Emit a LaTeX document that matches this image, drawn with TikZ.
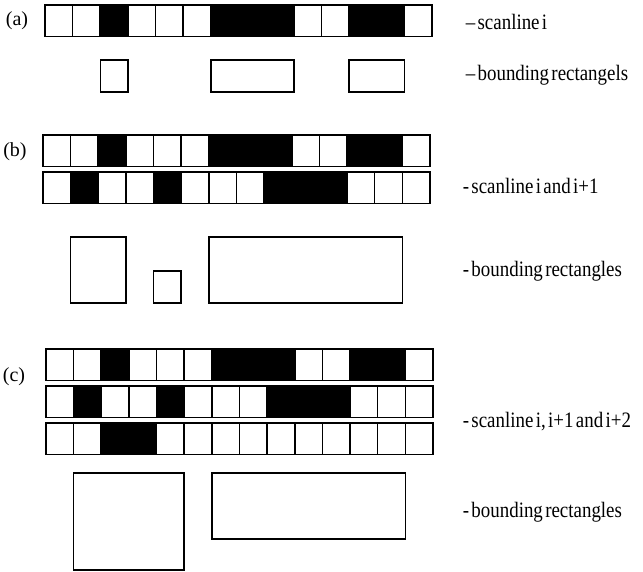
\documentclass[tikz,border=0pt]{standalone}
\usepackage{fontspec}
\setmainfont{Liberation Serif}
\newfontfamily\narrowfont[FakeStretch=0.86,WordSpace=0.5]{Liberation Serif}
\usetikzlibrary{positioning}

\tikzset{
  cell0/.style={draw, fill=white},
  cell1/.style={draw, fill=black},
  bbox/.style={draw},
  caption/.style={anchor=base west, inner sep=0pt,
    font=\narrowfont\fontsize{22}{26}\selectfont},
  tag/.style={inner sep=0pt, font=\fontsize{20}{24}\selectfont},
}
% one scanline: left x, top y, cell pattern (1 = black)
\newcommand{\scanrow}[3]{%
  \foreach \c [count=\k from 0] in {#3}
    \draw[cell\c] ({#1+\k*27.64},#2) rectangle ++(27.64,31.5);
}

\begin{document}
\begin{tikzpicture}[x=1pt, y=-1pt, line width=1.6pt]
    \useasboundingbox (0,0) rectangle (643,572);

    % (a) one scanline
    \node[tag] (tagA) at (17,21) {(a)};
    \scanrow{45}{5}{0,0,1,0,0,0,1,1,1,0,0,1,1,0}
    \draw[bbox] (100.3,60) rectangle (127.9,92);
    \draw[bbox] (210.8,60) rectangle (293.7,92);
    \draw[bbox] (349.0,60) rectangle (404.3,92);
    \node[caption] (capA1) at (465,30) {– scanline i};
    \node[caption] (capA2) at (465,81) {– bounding rectangels};

    % (b) two scanlines
    \node[tag] (tagB) at (15,152) {(b)};
    \scanrow{43}{135}{0,0,1,0,0,0,1,1,1,0,0,1,1,0}
    \scanrow{43}{172}{0,1,0,0,1,0,0,0,1,1,1,0,0,0}
    \draw[bbox] (70.6,237) rectangle (125.9,303);
    \draw[bbox] (153.6,271) rectangle (181.2,303);
    \draw[bbox] (208.8,237) rectangle (402.4,303);
    \node[caption] (capB1) at (462,194) {- scanline i and i+1};
    \node[caption] (capB2) at (462,277) {- bounding rectangles};

    % (c) three scanlines
    \node[tag] (tagC) at (14,377) {(c)};
    \scanrow{46}{349}{0,0,1,0,0,0,1,1,1,0,0,1,1,0}
    \scanrow{46}{386}{0,1,0,0,1,0,0,0,1,1,1,0,0,0}
    \scanrow{46}{423}{0,0,1,1,0,0,0,0,0,0,0,0,0,0}
    \draw[bbox] (73.6,473) rectangle (184.2,570);
    \draw[bbox] (211.8,473) rectangle (405.5,539);
    \node[caption] (capC1) at (462,427) {- scanline i, i+1 and i+2};
    \node[caption] (capC2) at (462,517) {- bounding rectangles};
\end{tikzpicture}
\end{document}
